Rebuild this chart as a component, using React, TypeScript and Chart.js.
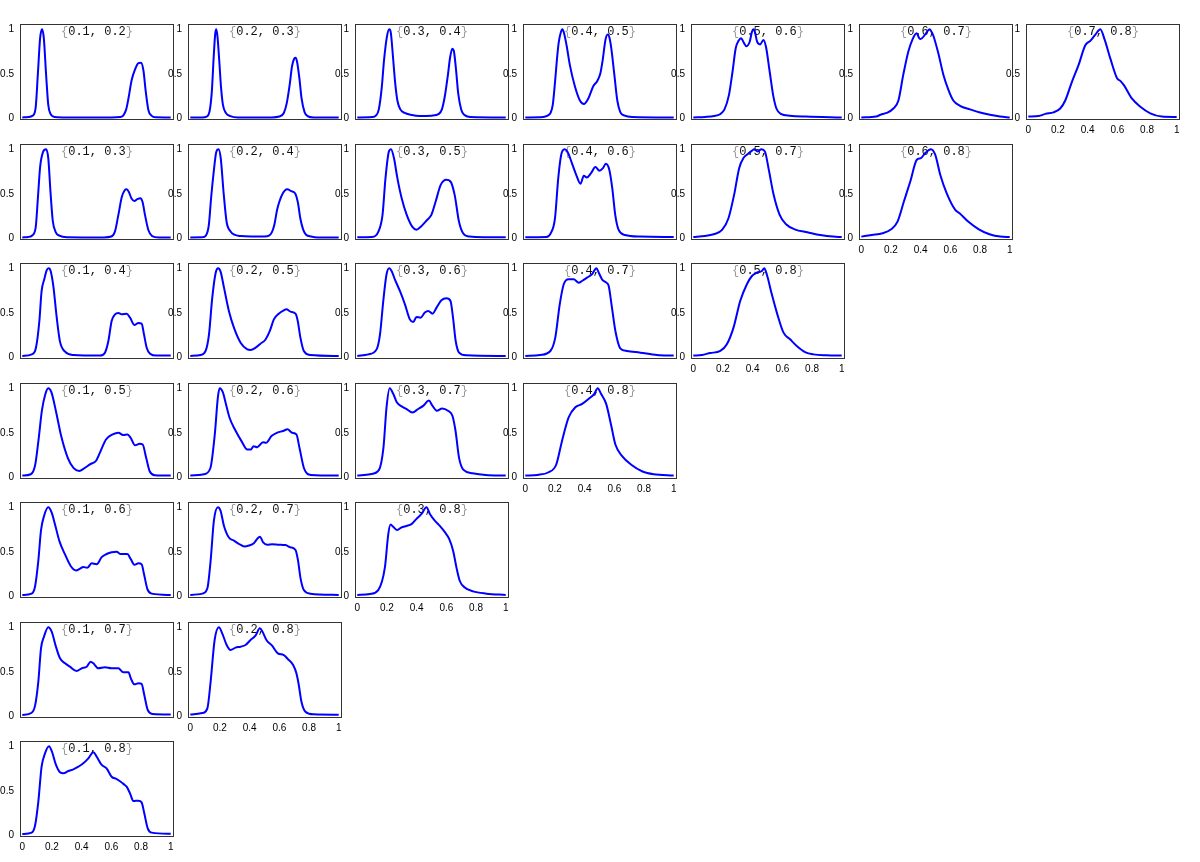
import React, { useEffect, useRef } from "react";
import { Chart, registerables } from "chart.js";

Chart.register(...registerables);

type Pt = [number, number];

const Y_TICKS = [0, 0.5, 1];
const X_TICKS = [0, 0.2, 0.4, 0.6, 0.8, 1];

// ---- row 0 ----
const P_1_2: Pt[] = [[0,0.01],[0.04,0.015],[0.07,0.03],[0.09,0.12],[0.105,0.5],[0.12,0.9],[0.133,1.0],[0.145,0.9],[0.16,0.5],[0.175,0.15],[0.19,0.05],[0.22,0.015],[0.3,0.01],[0.6,0.01],[0.66,0.015],[0.68,0.03],[0.7,0.1],[0.715,0.22],[0.737,0.43],[0.76,0.55],[0.782,0.62],[0.8,0.625],[0.816,0.54],[0.832,0.3],[0.85,0.09],[0.87,0.03],[0.9,0.012],[1,0.01]];
const P_2_3: Pt[] = [[0,0.01],[0.08,0.01],[0.11,0.02],[0.13,0.08],[0.145,0.3],[0.158,0.7],[0.168,0.95],[0.175,1.0],[0.183,0.92],[0.195,0.65],[0.207,0.35],[0.22,0.15],[0.24,0.06],[0.27,0.025],[0.32,0.01],[0.55,0.01],[0.6,0.02],[0.63,0.06],[0.65,0.17],[0.67,0.38],[0.685,0.58],[0.7,0.67],[0.71,0.68],[0.72,0.63],[0.735,0.45],[0.75,0.22],[0.77,0.07],[0.79,0.025],[0.83,0.01],[1,0.01]];
const P_3_4: Pt[] = [[0,0.01],[0.1,0.015],[0.125,0.03],[0.145,0.1],[0.165,0.35],[0.18,0.65],[0.2,0.92],[0.215,1.0],[0.225,0.97],[0.24,0.7],[0.255,0.4],[0.27,0.2],[0.29,0.1],[0.32,0.06],[0.36,0.04],[0.42,0.025],[0.5,0.03],[0.55,0.05],[0.57,0.1],[0.59,0.25],[0.61,0.48],[0.625,0.68],[0.64,0.78],[0.65,0.76],[0.665,0.55],[0.68,0.28],[0.7,0.1],[0.72,0.04],[0.76,0.015],[1,0.01]];
const P_4_5: Pt[] = [[0,0.01],[0.12,0.015],[0.15,0.03],[0.17,0.06],[0.185,0.15],[0.2,0.4],[0.212,0.64],[0.225,0.85],[0.24,0.97],[0.25,1.0],[0.262,0.95],[0.278,0.82],[0.3,0.6],[0.334,0.36],[0.368,0.2],[0.395,0.16],[0.424,0.22],[0.458,0.36],[0.485,0.42],[0.505,0.5],[0.522,0.66],[0.54,0.88],[0.555,0.94],[0.568,0.9],[0.58,0.78],[0.6,0.49],[0.62,0.2],[0.64,0.07],[0.67,0.03],[0.72,0.015],[1,0.01]];
const P_5_6: Pt[] = [[0,0.01],[0.08,0.015],[0.14,0.025],[0.18,0.045],[0.21,0.1],[0.24,0.26],[0.264,0.52],[0.286,0.79],[0.305,0.87],[0.322,0.9],[0.34,0.85],[0.358,0.81],[0.38,0.86],[0.395,0.97],[0.405,1.0],[0.415,0.97],[0.43,0.86],[0.45,0.83],[0.473,0.88],[0.49,0.8],[0.515,0.52],[0.538,0.26],[0.56,0.11],[0.59,0.05],[0.65,0.03],[0.76,0.02],[1,0.01]];
const P_6_7: Pt[] = [[0,0.01],[0.1,0.02],[0.13,0.04],[0.17,0.06],[0.216,0.11],[0.25,0.2],[0.283,0.49],[0.317,0.75],[0.346,0.89],[0.373,0.955],[0.39,0.9],[0.4,0.89],[0.43,0.94],[0.46,1.0],[0.47,0.98],[0.485,0.93],[0.519,0.73],[0.553,0.49],[0.587,0.32],[0.62,0.2],[0.665,0.14],[0.733,0.1],[0.8,0.065],[0.867,0.04],[0.935,0.02],[1,0.01]];
const P_7_8: Pt[] = [[0,0.02],[0.07,0.025],[0.115,0.05],[0.17,0.067],[0.215,0.11],[0.249,0.2],[0.294,0.41],[0.339,0.6],[0.384,0.82],[0.418,0.87],[0.452,0.94],[0.485,1.0],[0.515,0.88],[0.553,0.67],[0.598,0.45],[0.62,0.42],[0.643,0.375],[0.699,0.22],[0.755,0.13],[0.822,0.056],[0.9,0.02],[1,0.015]];

// ---- row 1 ----
const P_1_3: Pt[] = [[0,0.01],[0.04,0.015],[0.065,0.03],[0.09,0.12],[0.105,0.45],[0.12,0.8],[0.14,0.97],[0.16,1.0],[0.175,0.9],[0.19,0.52],[0.205,0.2],[0.225,0.07],[0.25,0.03],[0.3,0.012],[0.55,0.01],[0.6,0.02],[0.625,0.08],[0.647,0.26],[0.67,0.46],[0.69,0.54],[0.703,0.55],[0.718,0.52],[0.735,0.45],[0.755,0.42],[0.775,0.44],[0.795,0.45],[0.81,0.41],[0.827,0.26],[0.85,0.09],[0.875,0.025],[0.92,0.01],[1,0.01]];
const P_2_4: Pt[] = [[0,0.01],[0.08,0.012],[0.105,0.03],[0.125,0.15],[0.14,0.45],[0.158,0.75],[0.175,0.97],[0.19,1.0],[0.205,0.9],[0.225,0.5],[0.245,0.18],[0.27,0.08],[0.297,0.04],[0.34,0.025],[0.41,0.02],[0.5,0.02],[0.53,0.03],[0.55,0.07],[0.566,0.15],[0.585,0.32],[0.6,0.41],[0.622,0.5],[0.652,0.55],[0.68,0.53],[0.708,0.5],[0.724,0.41],[0.742,0.22],[0.76,0.1],[0.78,0.04],[0.814,0.02],[0.86,0.01],[1,0.01]];
const P_3_5: Pt[] = [[0,0.012],[0.1,0.015],[0.142,0.075],[0.17,0.263],[0.19,0.676],[0.213,0.976],[0.227,1.0],[0.247,0.901],[0.27,0.676],[0.299,0.45],[0.333,0.263],[0.37,0.131],[0.399,0.097],[0.428,0.131],[0.47,0.206],[0.499,0.263],[0.528,0.413],[0.562,0.6],[0.6,0.657],[0.628,0.638],[0.656,0.488],[0.685,0.188],[0.713,0.056],[0.756,0.019],[0.85,0.012],[1,0.012]];
const P_4_6: Pt[] = [[0,0.012],[0.142,0.015],[0.171,0.056],[0.2,0.225],[0.222,0.676],[0.242,0.939],[0.265,1.0],[0.285,0.969],[0.314,0.845],[0.343,0.713],[0.372,0.612],[0.394,0.702],[0.415,0.683],[0.443,0.732],[0.472,0.8],[0.5,0.758],[0.523,0.788],[0.543,0.837],[0.566,0.77],[0.586,0.563],[0.606,0.263],[0.629,0.094],[0.672,0.037],[0.773,0.019],[1,0.015]];
const P_5_7: Pt[] = [[0,0.015],[0.079,0.026],[0.137,0.045],[0.194,0.094],[0.237,0.225],[0.275,0.488],[0.309,0.788],[0.338,0.901],[0.367,0.946],[0.396,0.984],[0.41,1.0],[0.433,0.976],[0.459,1.0],[0.482,0.976],[0.511,0.75],[0.539,0.507],[0.582,0.263],[0.625,0.158],[0.683,0.101],[0.769,0.067],[0.856,0.037],[0.942,0.019],[1,0.015]];
const P_6_8: Pt[] = [[0,0.019],[0.071,0.037],[0.143,0.056],[0.201,0.101],[0.244,0.188],[0.287,0.413],[0.33,0.638],[0.374,0.882],[0.402,0.901],[0.431,0.958],[0.469,1.0],[0.498,0.939],[0.532,0.713],[0.575,0.507],[0.633,0.319],[0.662,0.282],[0.72,0.188],[0.792,0.101],[0.864,0.045],[0.936,0.019],[1,0.015]];

// ---- row 2 ----
const P_1_4: Pt[] = [[0,0.015],[0.063,0.033],[0.092,0.108],[0.115,0.408],[0.13,0.744],[0.148,0.876],[0.164,0.977],[0.178,1.0],[0.191,0.969],[0.209,0.801],[0.232,0.445],[0.254,0.176],[0.288,0.063],[0.344,0.026],[0.524,0.019],[0.557,0.052],[0.58,0.183],[0.602,0.408],[0.625,0.483],[0.647,0.498],[0.67,0.483],[0.703,0.49],[0.726,0.445],[0.755,0.363],[0.782,0.385],[0.804,0.378],[0.82,0.258],[0.838,0.108],[0.861,0.041],[0.905,0.019],[1,0.019]];
const P_2_5: Pt[] = [[0,0.015],[0.07,0.026],[0.103,0.071],[0.126,0.258],[0.148,0.67],[0.171,0.95],[0.188,1.0],[0.204,0.962],[0.227,0.782],[0.26,0.52],[0.294,0.333],[0.339,0.164],[0.384,0.089],[0.406,0.082],[0.44,0.108],[0.473,0.153],[0.507,0.2],[0.536,0.296],[0.563,0.426],[0.596,0.49],[0.63,0.528],[0.648,0.539],[0.675,0.513],[0.709,0.49],[0.724,0.408],[0.742,0.221],[0.765,0.071],[0.809,0.026],[1,0.015]];
const P_3_6: Pt[] = [[0,0.015],[0.074,0.033],[0.13,0.089],[0.153,0.258],[0.175,0.632],[0.197,0.932],[0.215,1.0],[0.231,0.969],[0.253,0.876],[0.287,0.745],[0.321,0.595],[0.354,0.426],[0.377,0.396],[0.399,0.453],[0.426,0.445],[0.455,0.502],[0.478,0.52],[0.507,0.49],[0.534,0.558],[0.567,0.64],[0.601,0.662],[0.628,0.632],[0.645,0.445],[0.663,0.183],[0.686,0.052],[0.735,0.022],[1,0.015]];
const P_4_7: Pt[] = [[0,0.015],[0.1,0.026],[0.169,0.071],[0.202,0.221],[0.232,0.595],[0.259,0.82],[0.292,0.876],[0.326,0.876],[0.36,0.838],[0.382,0.857],[0.416,0.894],[0.449,0.932],[0.479,1.0],[0.495,0.95],[0.517,0.876],[0.546,0.838],[0.562,0.801],[0.584,0.557],[0.607,0.296],[0.64,0.101],[0.685,0.071],[0.775,0.052],[0.888,0.026],[1,0.019]];
const P_5_8: Pt[] = [[0,0.019],[0.058,0.026],[0.114,0.048],[0.182,0.071],[0.226,0.146],[0.271,0.333],[0.316,0.632],[0.361,0.82],[0.395,0.913],[0.428,0.95],[0.462,0.969],[0.478,1.0],[0.495,0.932],[0.529,0.707],[0.563,0.502],[0.608,0.277],[0.652,0.202],[0.697,0.127],[0.753,0.059],[0.809,0.033],[0.899,0.022],[1,0.019]];

// ---- row 3 ----
const P_1_5: Pt[] = [[0,0.019],[0.057,0.034],[0.087,0.141],[0.111,0.444],[0.132,0.748],[0.156,0.938],[0.175,1.0],[0.196,0.956],[0.226,0.748],[0.262,0.463],[0.307,0.216],[0.346,0.103],[0.383,0.072],[0.419,0.103],[0.458,0.148],[0.497,0.186],[0.527,0.292],[0.564,0.425],[0.609,0.482],[0.648,0.501],[0.679,0.474],[0.709,0.482],[0.73,0.444],[0.76,0.36],[0.79,0.376],[0.811,0.368],[0.835,0.216],[0.859,0.065],[0.895,0.023],[1,0.019]];
const P_2_6: Pt[] = [[0,0.019],[0.09,0.034],[0.135,0.102],[0.165,0.482],[0.186,0.9],[0.198,1.0],[0.219,0.956],[0.24,0.824],[0.264,0.672],[0.3,0.539],[0.345,0.406],[0.385,0.311],[0.406,0.311],[0.427,0.349],[0.451,0.338],[0.49,0.395],[0.511,0.387],[0.547,0.463],[0.586,0.501],[0.625,0.52],[0.655,0.539],[0.685,0.501],[0.715,0.482],[0.736,0.33],[0.766,0.102],[0.812,0.027],[1,0.019]];
const P_3_7: Pt[] = [[0,0.019],[0.087,0.034],[0.146,0.083],[0.176,0.33],[0.197,0.786],[0.218,1.0],[0.242,0.938],[0.266,0.843],[0.302,0.793],[0.332,0.767],[0.371,0.729],[0.41,0.767],[0.446,0.805],[0.482,0.862],[0.506,0.805],[0.536,0.748],[0.572,0.774],[0.611,0.748],[0.641,0.691],[0.662,0.52],[0.686,0.216],[0.716,0.083],[0.776,0.046],[0.866,0.027],[1,0.019]];
const P_4_8: Pt[] = [[0,0.019],[0.081,0.027],[0.157,0.057],[0.208,0.141],[0.247,0.406],[0.292,0.672],[0.337,0.786],[0.383,0.824],[0.428,0.881],[0.465,0.938],[0.488,1.0],[0.51,0.938],[0.545,0.824],[0.577,0.596],[0.607,0.368],[0.654,0.235],[0.714,0.141],[0.79,0.065],[0.865,0.034],[1,0.019]];

// ---- row 4 ----
const P_1_6: Pt[] = [[0,0.015],[0.063,0.03],[0.086,0.11],[0.108,0.4],[0.126,0.74],[0.146,0.9],[0.175,1.0],[0.198,0.94],[0.22,0.81],[0.25,0.62],[0.288,0.47],[0.326,0.34],[0.362,0.29],[0.389,0.31],[0.411,0.33],[0.438,0.32],[0.467,0.37],[0.501,0.36],[0.535,0.44],[0.568,0.475],[0.602,0.495],[0.636,0.5],[0.663,0.475],[0.708,0.475],[0.73,0.42],[0.755,0.355],[0.782,0.37],[0.804,0.36],[0.82,0.25],[0.843,0.08],[0.872,0.03],[1,0.015]];
const P_2_7: Pt[] = [[0,0.015],[0.081,0.03],[0.115,0.09],[0.137,0.4],[0.159,0.85],[0.186,1.0],[0.204,0.96],[0.227,0.79],[0.26,0.66],[0.294,0.625],[0.327,0.59],[0.365,0.56],[0.395,0.57],[0.428,0.595],[0.451,0.645],[0.469,0.67],[0.491,0.605],[0.518,0.58],[0.552,0.585],[0.596,0.58],[0.641,0.575],[0.675,0.55],[0.709,0.52],[0.726,0.4],[0.742,0.21],[0.765,0.07],[0.809,0.03],[1,0.015]];
const P_3_8: Pt[] = [[0,0.015],[0.085,0.026],[0.141,0.07],[0.186,0.325],[0.209,0.7],[0.224,0.805],[0.242,0.78],[0.269,0.745],[0.298,0.775],[0.332,0.79],[0.365,0.81],[0.399,0.87],[0.433,0.925],[0.466,1.0],[0.489,0.925],[0.522,0.85],[0.556,0.79],[0.59,0.72],[0.619,0.645],[0.646,0.51],[0.668,0.325],[0.69,0.175],[0.724,0.1],[0.78,0.055],[0.87,0.03],[1,0.015]];

// ---- row 5 ----
const P_1_7: Pt[] = [[0,0.015],[0.063,0.04],[0.086,0.12],[0.108,0.39],[0.126,0.763],[0.146,0.894],[0.175,1.0],[0.198,0.95],[0.227,0.78],[0.254,0.651],[0.288,0.595],[0.321,0.557],[0.366,0.509],[0.4,0.539],[0.434,0.557],[0.461,0.614],[0.479,0.595],[0.512,0.539],[0.557,0.55],[0.602,0.539],[0.647,0.539],[0.681,0.494],[0.715,0.494],[0.733,0.419],[0.755,0.359],[0.782,0.37],[0.804,0.363],[0.822,0.239],[0.845,0.071],[0.878,0.026],[1,0.02]];
const P_2_8: Pt[] = [[0,0.02],[0.081,0.037],[0.115,0.09],[0.137,0.39],[0.164,0.857],[0.193,1.0],[0.215,0.932],[0.245,0.801],[0.271,0.745],[0.305,0.771],[0.339,0.782],[0.372,0.801],[0.406,0.857],[0.439,0.906],[0.469,0.988],[0.484,0.958],[0.513,0.857],[0.551,0.793],[0.59,0.707],[0.63,0.688],[0.657,0.643],[0.693,0.576],[0.715,0.483],[0.731,0.352],[0.749,0.164],[0.776,0.052],[0.832,0.022],[1,0.018]];

// ---- row 6 ----
const P_1_8: Pt[] = [[0,0.015],[0.063,0.03],[0.086,0.11],[0.108,0.378],[0.13,0.77],[0.153,0.92],[0.18,1.0],[0.198,0.947],[0.227,0.79],[0.254,0.707],[0.277,0.696],[0.31,0.722],[0.344,0.741],[0.378,0.771],[0.411,0.808],[0.445,0.864],[0.479,0.932],[0.501,0.883],[0.535,0.79],[0.568,0.752],[0.602,0.658],[0.636,0.632],[0.663,0.602],[0.685,0.572],[0.703,0.546],[0.726,0.471],[0.748,0.385],[0.782,0.389],[0.804,0.37],[0.822,0.247],[0.845,0.078],[0.872,0.03],[1,0.018]];

const ROW_LABELS: [string, string][][] = [
  [["0.1", "0.2"], ["0.2", "0.3"], ["0.3", "0.4"], ["0.4", "0.5"], ["0.5", "0.6"], ["0.6", "0.7"], ["0.7", "0.8"]],
  [["0.1", "0.3"], ["0.2", "0.4"], ["0.3", "0.5"], ["0.4", "0.6"], ["0.5", "0.7"], ["0.6", "0.8"]],
  [["0.1", "0.4"], ["0.2", "0.5"], ["0.3", "0.6"], ["0.4", "0.7"], ["0.5", "0.8"]],
  [["0.1", "0.5"], ["0.2", "0.6"], ["0.3", "0.7"], ["0.4", "0.8"]],
  [["0.1", "0.6"], ["0.2", "0.7"], ["0.3", "0.8"]],
  [["0.1", "0.7"], ["0.2", "0.8"]],
  [["0.1", "0.8"]],
];

const ROW_SERIES: Pt[][][] = [
  [P_1_2, P_2_3, P_3_4, P_4_5, P_5_6, P_6_7, P_7_8],
  [P_1_3, P_2_4, P_3_5, P_4_6, P_5_7, P_6_8],
  [P_1_4, P_2_5, P_3_6, P_4_7, P_5_8],
  [P_1_5, P_2_6, P_3_7, P_4_8],
  [P_1_6, P_2_7, P_3_8],
  [P_1_7, P_2_8],
  [P_1_8],
];

const X_MIN = -0.0155;
const X_MAX = 1.0222;
const Y_MIN = -0.019;
const Y_MAX = 1.059;

const FRAME_W = 154;
const FRAME_H = 96;
const AXIS_W = 20;
const AXIS_H = 20;
const PAD = 4;

const TICK_FONT = { family: "'Liberation Sans', Arial, sans-serif", size: 10 };

function Panel({ pair, data, showX, left, top }: { pair: [string, string]; data: Pt[]; showX: boolean; left: number; top: number }) {
  const ref = useRef<HTMLCanvasElement>(null);
  useEffect(() => {
    const canvas = ref.current;
    if (!canvas) return;
    const decor = {
      id: "panelDecor",
      beforeDatasetsDraw(chart: any) {
        const { ctx, chartArea } = chart;
        ctx.save();
        ctx.font = "12px 'Liberation Mono', 'DejaVu Sans Mono', monospace";
        ctx.textAlign = "left";
        ctx.textBaseline = "alphabetic";
        const inner = pair[0] + ", " + pair[1];
        const full = "{" + inner + "}";
        const w = ctx.measureText(full).width;
        let x = (chartArea.left + chartArea.right) / 2 - w / 2;
        const y = chartArea.top + 10.5;
        const parts: [string, string][] = [["{", "#9a9a9a"], [inner, "#111111"], ["}", "#9a9a9a"]];
        for (const [t, c] of parts) {
          ctx.fillStyle = c;
          ctx.fillText(t, x, y);
          x += ctx.measureText(t).width;
        }
        ctx.restore();
      },
      afterDraw(chart: any) {
        const { ctx, chartArea } = chart;
        ctx.save();
        ctx.strokeStyle = "#333333";
        ctx.lineWidth = 1;
        const l = Math.round(chartArea.left) + 0.5;
        const t = Math.round(chartArea.top) + 0.5;
        const r = Math.round(chartArea.right) - 0.5;
        const b = Math.round(chartArea.bottom) - 0.5;
        ctx.strokeRect(l, t, r - l, b - t);
        ctx.restore();
      },
    };
    const chart = new Chart(canvas, {
      type: "line",
      data: {
        datasets: [
          {
            data: data.map(([x, y]) => ({ x, y })),
            borderColor: "#0000ff",
            borderWidth: 2,
            pointRadius: 0,
            fill: false,
            cubicInterpolationMode: "monotone",
          } as any,
        ],
      },
      options: {
        animation: false,
        responsive: false,
        events: [],
        layout: { padding: { top: PAD, right: PAD, left: 0, bottom: 0 } },
        plugins: { legend: { display: false }, tooltip: { enabled: false } },
        scales: {
          x: {
            type: "linear",
            min: X_MIN,
            max: X_MAX,
            grid: { display: false, drawTicks: false },
            border: { display: false },
            afterBuildTicks: (s: any) => {
              s.ticks = X_TICKS.map((v) => ({ value: v }));
            },
            afterFit: (s: any) => {
              s.height = AXIS_H;
              s.paddingLeft = 0;
              s.paddingRight = 0;
              s.paddingTop = 0;
              s.paddingBottom = 0;
            },
            ticks: {
              display: showX,
              padding: 4,
              autoSkip: false,
              maxRotation: 0,
              color: "#000",
              font: TICK_FONT,
              callback: (v: any) => String(v),
            },
          },
          y: {
            type: "linear",
            min: Y_MIN,
            max: Y_MAX,
            grid: { display: false, drawTicks: false },
            border: { display: false },
            afterBuildTicks: (s: any) => {
              s.ticks = Y_TICKS.map((v) => ({ value: v }));
            },
            afterFit: (s: any) => {
              s.width = AXIS_W;
              s.paddingLeft = 0;
              s.paddingRight = 0;
              s.paddingTop = 0;
              s.paddingBottom = 0;
            },
            ticks: {
              padding: 6,
              autoSkip: false,
              color: "#000",
              font: TICK_FONT,
              callback: (v: any) => String(v),
            },
          },
        },
      } as any,
      plugins: [decor as any],
    });
    return () => chart.destroy();
  }, [pair, data, showX]);
  return (
    <canvas
      ref={ref}
      width={AXIS_W + FRAME_W + PAD}
      height={PAD + FRAME_H + AXIS_H}
      style={{ position: "absolute", left, top, display: "block" }}
    />
  );
}

export default function App() {
  const panels: React.ReactNode[] = [];
  const nRows = ROW_LABELS.length;
  ROW_LABELS.forEach((row, r) => {
    row.forEach((pair, c) => {
      const frameLeft = Math.round(20 + 167.7 * c);
      const frameTop = Math.round(24 + 119.5 * r);
      const isBottom = r === nRows - 1 - c;
      panels.push(
        <Panel
          key={`${r}-${c}`}
          pair={pair}
          data={ROW_SERIES[r][c]}
          showX={isBottom}
          left={frameLeft - AXIS_W}
          top={frameTop - PAD}
        />
      );
    });
  });
  return (
    <div style={{ position: "absolute", left: 0, top: 0, width: 1200, height: 862, background: "#fff", overflow: "hidden" }}>
      {panels}
    </div>
  );
}
